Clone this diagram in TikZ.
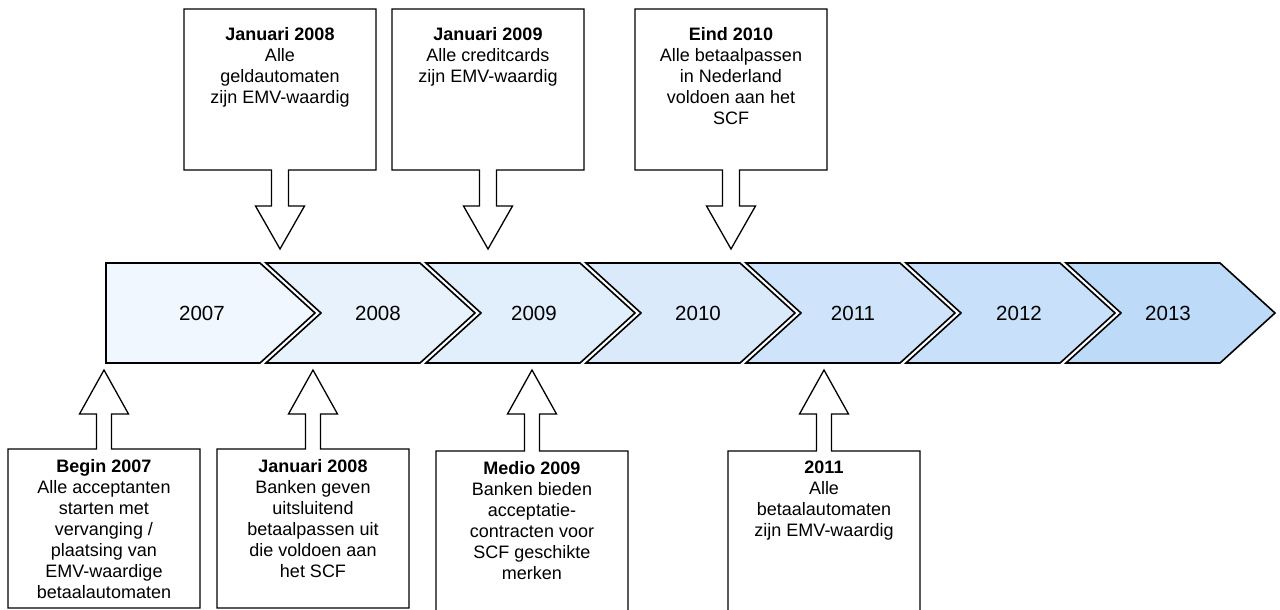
\documentclass[tikz,border=0pt]{standalone}
\usepackage{fontspec}
\setmainfont{Liberation Sans}
\usetikzlibrary{calc}

\definecolor{chev}{HTML}{B8D7F8}

\tikzset{
  chevron/.style={draw=black, line width=1.6pt, line join=miter},
  callout/.style={draw=black, line width=1.3pt, fill=white, line join=miter},
  calloutbox/.style={draw=none, inner sep=0pt, outer sep=0pt,
    minimum width=192pt},
  note/.style={anchor=north, align=center, inner sep=0pt,
    font=\fontsize{18}{21}\selectfont},
  yearlabel/.style={inner sep=0pt, font=\fontsize{20.5}{24}\selectfont},
}

% Callout above the timeline, pointing down onto it
% #1 name, #2 centre x, #3 text
\newcommand\DownCallout[3]{%
  \node[calloutbox, anchor=north, minimum height=161pt] (#1) at (#2,9) {};
  \coordinate (#1tip) at (#2,249);
  \draw[callout] (#1.north west) -- (#1.north east) -- (#1.south east)
    -- ($(#1.south)+(8.5,0)$) -- ($(#1.south)+(8.5,36)$)
    -- ($(#1.south)+(24.5,36)$) -- (#1tip)
    -- ($(#1.south)+(-24.5,36)$) -- ($(#1.south)+(-8.5,36)$)
    -- ($(#1.south)+(-8.5,0)$) -- (#1.south west) -- cycle;
  \node[note] (#1text) at ($(#1.north)+(0,18)$) {#3};
}

% Callout below the timeline, pointing up onto it
% #1 name, #2 centre x, #3 top y, #4 height, #5 text
\newcommand\UpCallout[5]{%
  \node[calloutbox, anchor=north, minimum height=#4] (#1) at (#2,#3) {};
  \coordinate (#1tip) at (#2,370);
  \draw[callout] (#1.south west) -- (#1.north west)
    -- ($(#1.north)+(-7.5,0)$) -- (#2-7.5,414) -- (#2-24.5,414)
    -- (#1tip) -- (#2+24.5,414) -- (#2+7.5,414)
    -- ($(#1.north)+(7.5,0)$) -- (#1.north east) -- (#1.south east) -- cycle;
  \node[note] (#1text) at ($(#1.north)+(0,10)$) {#5};
}

\begin{document}
\begin{tikzpicture}[x=1pt,y=-1pt]
\useasboundingbox (0,0) rectangle (1280,610);

% timeline of chevrons
\foreach \i/\yr/\lx/\shade in {0/2007/202/20, 1/2008/378/33, 2/2009/534/42,
    3/2010/698/52, 4/2011/853/68, 5/2012/1019/78, 6/2013/1168/92} {
  \pgfmathsetmacro\L{106+160*\i}
  \pgfmathsetmacro\R{\L+154}
  \pgfmathsetmacro\T{\R+55}
  \pgfmathsetmacro\N{\L+(\i>0)*55}
  \draw[chevron, fill=chev!\shade!white] (\L,263) -- (\R,263) -- (\T,313)
    -- (\R,363) -- (\L,363) -- (\N,313) -- cycle;
  \node[yearlabel] (yr\yr) at (\lx,313) {\yr};
}

% milestones above the timeline
\DownCallout{topA}{280}{\textbf{Januari 2008}\\Alle\\geldautomaten\\zijn EMV-waardig}
\DownCallout{topB}{488}{\textbf{Januari 2009}\\Alle creditcards\\zijn EMV-waardig}
\DownCallout{topC}{731}{\textbf{Eind 2010}\\Alle betaalpassen\\in Nederland\\voldoen aan het\\SCF}

% milestones below the timeline
\UpCallout{botA}{104}{449}{159pt}{\textbf{Begin 2007}\\Alle acceptanten\\starten met\\vervanging /\\plaatsing van\\EMV-waardige\\betaalautomaten}
\UpCallout{botB}{313}{449}{159pt}{\textbf{Januari 2008}\\Banken geven\\uitsluitend\\betaalpassen uit\\die voldoen aan\\het SCF}
\UpCallout{botC}{532}{451}{170pt}{\textbf{Medio 2009}\\Banken bieden\\acceptatie-\\contracten voor\\SCF geschikte\\merken}
\UpCallout{botD}{824}{451}{170pt}{\textbf{2011}\\Alle\\betaalautomaten\\zijn EMV-waardig}
\end{tikzpicture}
\end{document}
